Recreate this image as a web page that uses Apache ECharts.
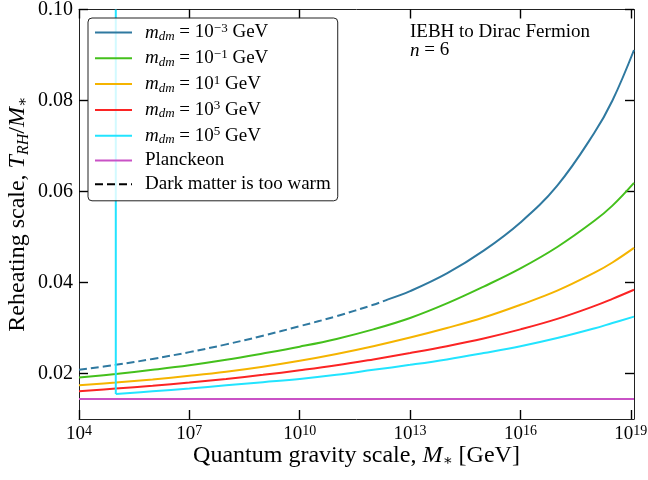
<!DOCTYPE html>
<html>
<head>
<meta charset="utf-8">
<script src="https://cdn.jsdelivr.net/npm/echarts@6/dist/echarts.min.js"></script>
<style>
  html, body { margin: 0; padding: 0; background: #fff; }
  #chart { width: 648px; height: 480px; }
</style>
</head>
<body>
<div id="chart"></div>
<script>
// log10(M_* / GeV) sample points; the axis ends at the Planck mass (1.22e19 GeV)
const logMstar = [4, 5, 6, 7, 8, 9, 10, 11, 12, 13, 14, 15, 16, 17, 18, 18.5, 19.086];
const logMstarMin = 4;
const logMstarMax = 19.086;

// T_RH / M_* for each dark matter mass
const logMstarWarm   = [4, 5, 6, 7, 8, 9, 10, 11, 12, 12.4];
const trhMdm1em3Warm = [0.0208, 0.0219, 0.0232, 0.0247, 0.0264, 0.0283, 0.0304, 0.0326, 0.0351, 0.0363];
const logMstarCold   = [12.4, 13, 14, 15, 16, 17, 18, 18.5, 19.086];
const trhMdm1em3     = [0.0363, 0.0381, 0.0420, 0.0470, 0.0532, 0.0613, 0.0728, 0.0800, 0.0911];
const trhMdm1em1 = [0.0191, 0.0199, 0.0208, 0.0218, 0.0230, 0.0244, 0.0259, 0.0276, 0.0297, 0.0322, 0.0354, 0.0391, 0.0431, 0.0478, 0.0535, 0.0569, 0.0619];
const trhMdm1e1  = [0.0174, 0.0180, 0.0187, 0.0195, 0.0204, 0.0215, 0.0228, 0.0243, 0.0260, 0.0279, 0.0300, 0.0323, 0.0351, 0.0382, 0.0421, 0.0444, 0.0476];
const trhMdm1e3  = [0.0161, 0.0167, 0.0173, 0.0180, 0.0188, 0.0197, 0.0207, 0.0218, 0.0231, 0.0245, 0.0260, 0.0277, 0.0297, 0.0320, 0.0348, 0.0364, 0.0384];
const logMstarHeavy = [5, 6, 7, 8, 9, 10, 11, 12, 13, 14, 15, 16, 17, 18, 18.5, 19.086];
const trhMdm1e5  = [0.0155, 0.0161, 0.0167, 0.0174, 0.0181, 0.0188, 0.0197, 0.0208, 0.0219, 0.0231, 0.0245, 0.0260, 0.0278, 0.0299, 0.0311, 0.0325];
const trhPlanckeon = 0.0144;

// axis ticks
const xTickExps = [4, 7, 10, 13, 16, 19];
const yTicks = [0.02, 0.04, 0.06, 0.08, 0.10];
const yMin = 0.01, yMax = 0.10;

const FONT = "'Liberation Serif', 'DejaVu Serif', serif";
const colors = {
  m3: '#2f79a0', m1: '#44c01c', p1: '#f5b400', p3: '#fb2424', p5: '#22e4ff',
  planck: '#c952c6', warm: '#000000'
};

const pairs = (xs, ys) => xs.map((x, i) => [x, ys[i]]);

const legendRich = {
  r: { fontFamily: FONT, fontSize: 19, lineHeight: 20, color: '#000' },
  i: { fontFamily: FONT, fontSize: 19, lineHeight: 20, fontStyle: 'italic', color: '#000' },
  s: { fontFamily: FONT, fontSize: 13, lineHeight: 12, fontStyle: 'italic', padding: [8, 0, 0, 0], color: '#000' },
  p: { fontFamily: FONT, fontSize: 13, lineHeight: 12, padding: [0, 0, 8, 0], color: '#000' }
};
const massLabel = e => `{i|m}{s|dm}{r| = 10}{p|${e}}{r| GeV}`;
const legendText = {
  'mdm 1e-3': massLabel('\u22123'),
  'mdm 1e-1': massLabel('\u22121'),
  'mdm 1e1': massLabel('1'),
  'mdm 1e3': massLabel('3'),
  'mdm 1e5': massLabel('5'),
  'Planckeon': '{r|Planckeon}',
  'Dark matter is too warm': '{r|Dark matter is too warm}'
};

const lineSeries = (name, data, color, extra) => Object.assign({
  type: 'line', name, data, symbol: 'none', showSymbol: false,
  smooth: 0.4, clip: true,
  lineStyle: { color, width: 2 }, itemStyle: { color },
  emphasis: { disabled: true }
}, extra || {});

const tickStyle = { inside: true, length: 9, lineStyle: { color: '#000', width: 1.4 } };
const axisLineStyle = { show: true, onZero: false, lineStyle: { color: '#222', width: 1 } };

const option = {
  animation: false,
  backgroundColor: '#fff',
  grid: { left: 79, right: 14, top: 9.5, bottom: 61, containLabel: false, outerBoundsMode: 'none' },
  xAxis: [{
    type: 'value', min: logMstarMin, max: logMstarMax,
    axisLine: axisLineStyle,
    axisTick: Object.assign({ customValues: xTickExps }, tickStyle),
    splitLine: { show: false },
    axisLabel: {
      customValues: xTickExps, margin: 5,
      formatter: v => `{b|10}{e|${v}}`,
      rich: {
        b: { fontFamily: FONT, fontSize: 19, lineHeight: 20, color: '#000', verticalAlign: 'bottom' },
        e: { fontFamily: FONT, fontSize: 14, lineHeight: 14, padding: [0, 0, 6, 0], color: '#000', verticalAlign: 'bottom' }
      }
    },
    name: '{r|Quantum gravity scale, }{i|M}{s|\u2217}{r| [GeV]}',
    nameLocation: 'middle', nameGap: 24, nameMoveOverlap: false,
    nameTextStyle: {
      rich: {
        r: { fontFamily: FONT, fontSize: 24, lineHeight: 26, color: '#000' },
        i: { fontFamily: FONT, fontSize: 24, lineHeight: 26, fontStyle: 'italic', color: '#000' },
        s: { fontFamily: FONT, fontSize: 15, lineHeight: 15, padding: [11, 0, 0, 0], color: '#000' }
      }
    }
  }, {
    type: 'value', position: 'top', min: logMstarMin, max: logMstarMax,
    axisLine: axisLineStyle,
    axisTick: Object.assign({ customValues: xTickExps }, tickStyle),
    axisLabel: { show: false }, splitLine: { show: false }
  }],
  yAxis: [{
    type: 'value', min: yMin, max: yMax,
    axisLine: axisLineStyle,
    axisTick: Object.assign({ customValues: yTicks }, tickStyle),
    splitLine: { show: false },
    axisLabel: {
      customValues: yTicks, margin: 6,
      formatter: v => v.toFixed(2),
      fontFamily: FONT, fontSize: 20, color: '#000'
    },
    name: '{r|Reheating scale, }{i|T}{s|RH}{r|/}{i|M}{t|\u2217}',
    nameLocation: 'middle', nameGap: 48, nameMoveOverlap: false,
    nameTextStyle: {
      rich: {
        r: { fontFamily: FONT, fontSize: 24, lineHeight: 26, color: '#000' },
        i: { fontFamily: FONT, fontSize: 24, lineHeight: 26, fontStyle: 'italic', color: '#000' },
        s: { fontFamily: FONT, fontSize: 16, lineHeight: 15, fontStyle: 'italic', padding: [11, 0, 0, 0], color: '#000' },
        t: { fontFamily: FONT, fontSize: 15, lineHeight: 15, padding: [11, 0, 0, 0], color: '#000' }
      }
    }
  }, {
    type: 'value', position: 'right', min: yMin, max: yMax,
    axisLine: axisLineStyle,
    axisTick: Object.assign({ customValues: yTicks }, tickStyle),
    axisLabel: { show: false }, splitLine: { show: false }
  }],
  legend: {
    orient: 'vertical', left: 88, top: 18,
    data: ['mdm 1e-3', 'mdm 1e-1', 'mdm 1e1', 'mdm 1e3', 'mdm 1e5', 'Planckeon', 'Dark matter is too warm'],
    itemWidth: 37, itemHeight: 14, itemGap: 4.8,
    padding: [4, 7, 7, 6],
    backgroundColor: 'rgba(255,255,255,0.8)',
    borderColor: '#222', borderWidth: 1, borderRadius: 4,
    selectedMode: false,
    itemStyle: { opacity: 0 },
    lineStyle: { width: 2 },
    textStyle: { fontFamily: FONT, fontSize: 19, color: '#000', padding: [0, 0, 0, 8], rich: legendRich },
    formatter: name => legendText[name]
  },
  graphic: [{
    type: 'text', left: 410, top: 23, z: 10,
    style: {
      text: '{r|IEBH to Dirac Fermion}\n{i|n}{r| = 6}',
      rich: {
        r: { fontFamily: FONT, fontSize: 19, lineHeight: 18, fill: '#000' },
        i: { fontFamily: FONT, fontSize: 19, lineHeight: 18, fontStyle: 'italic', fill: '#000' }
      }
    }
  }],
  series: [
    lineSeries('mdm 1e-3', pairs(logMstarCold, trhMdm1em3), colors.m3),
    lineSeries('mdm 1e-3 warm', pairs(logMstarWarm, trhMdm1em3Warm), colors.m3,
      { lineStyle: { color: colors.m3, width: 2, type: [8, 4] } }),
    lineSeries('mdm 1e-1', pairs(logMstar, trhMdm1em1), colors.m1),
    lineSeries('mdm 1e1', pairs(logMstar, trhMdm1e1), colors.p1),
    lineSeries('mdm 1e3', pairs(logMstar, trhMdm1e3), colors.p3),
    lineSeries('mdm 1e5', pairs(logMstarHeavy, trhMdm1e5), colors.p5),
    // below this M_* the heavy relic cannot be produced: vertical edge of the curve
    lineSeries('mdm 1e5', [[logMstarHeavy[0], yMax], [logMstarHeavy[0], trhMdm1e5[0]]], colors.p5, { smooth: false }),
    lineSeries('Planckeon', [[logMstarMin, trhPlanckeon], [logMstarMax, trhPlanckeon]], colors.planck, { smooth: false }),
    lineSeries('Dark matter is too warm', [], colors.warm,
      { lineStyle: { color: colors.warm, width: 2, type: [8, 4] } })
  ]
};

const chart = echarts.init(document.getElementById('chart'), null, { renderer: 'canvas' });
chart.setOption(option);
</script>
</body>
</html>
